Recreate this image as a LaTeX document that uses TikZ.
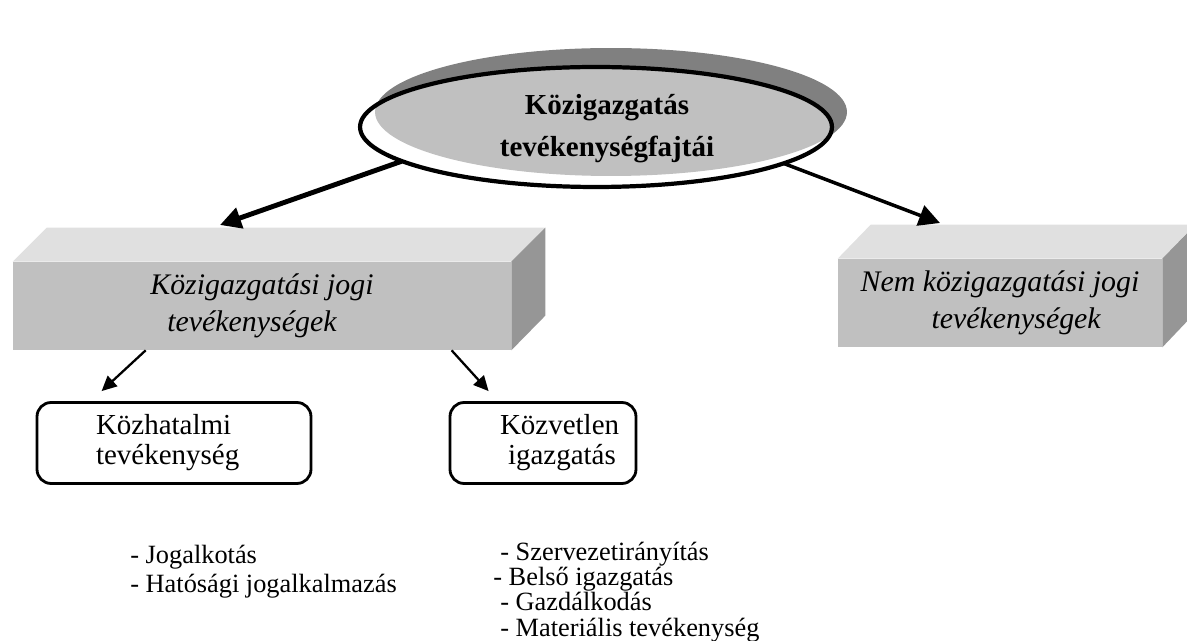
\documentclass[tikz,border=0pt]{standalone}
\usepackage{fontspec}
\setmainfont{Liberation Serif}
\usetikzlibrary{shapes.geometric, arrows.meta, positioning, calc}
\definecolor{shadowgray}{RGB}{128, 128, 128}
\definecolor{ovalgray}{RGB}{192, 192, 192}
\definecolor{frontgray}{RGB}{192, 192, 192}
\definecolor{topgray}{RGB}{224, 224, 224}
\definecolor{sidegray}{RGB}{150, 150, 150}

\begin{document}
\begin{tikzpicture}[x=0.02cm, y=-0.02cm,
  frontface/.style={fill=frontgray, inner sep=0pt, minimum height=1.76cm, align=left, font=\itshape\fontsize{17}{21}\selectfont},
  subbox/.style={draw, line width=1.6pt, rounded corners=8pt, minimum height=1.62cm, align=left, font=\fontsize{16.5}{17}\selectfont},
  listtext/.style={inner sep=0pt, anchor=west, align=left, font=\fontsize{15}{14.3}\selectfont},
  bigarrow/.style={-{Triangle[length=0.42cm, width=0.42cm]}},
  smallarrow/.style={-{Triangle[length=0.3cm, width=0.28cm]}, line width=1.3pt}]
  \useasboundingbox (0,0) rectangle (1187,641);

  % Title oval with its shadow
  \fill[shadowgray] (611,112) ellipse [x radius=4.72cm, y radius=1.28cm];
  \node[ellipse, fill=white, minimum width=9.44cm, minimum height=2.4cm] (title) at (596,127) {};
  \begin{scope}
    \clip (596,127) ellipse [x radius=4.72cm, y radius=1.2cm];
    \fill[ovalgray] (611,112) ellipse [x radius=4.72cm, y radius=1.28cm];
  \end{scope}
  \draw[line width=2.4pt] (title.center) ellipse [x radius=4.72cm, y radius=1.2cm];
  \node[align=center, font=\bfseries\fontsize{16.5}{23.8}\selectfont] (titletxt) at (607,129) {Közigazgatás\\tevékenységfajtái};

  % Left block
  \node[frontface, minimum width=9.96cm] (kjt) at (262,306) {Közigazgatási jogi\\\hspace*{0.34cm}tevékenységek};
  \fill[topgray] (kjt.north west) -- ++(34,-34) -- ++(498,0) -- (kjt.north east) -- cycle;
  \fill[sidegray] (kjt.north east) -- ++(34,-34) -- ++(0,88) -- (kjt.south east) -- cycle;

  % Right block
  \node[frontface, minimum width=6.48cm] (nkj) at (1000,303) {Nem közigazgatási jogi\\\hspace*{1.42cm}tevékenységek};
  \fill[topgray] (nkj.north west) -- ++(33,-34) -- ++(324,0) -- (nkj.north east) -- cycle;
  \fill[sidegray] (nkj.north east) -- ++(33,-34) -- ++(0,88) -- (nkj.south east) -- cycle;

  % Arrows from the oval
  \coordinate (kjtin) at (220,225);
  \coordinate (nkjin) at (940,223);
  \draw[bigarrow, line width=2.8pt] (title.190) -- (kjtin);
  \draw[bigarrow, line width=2pt] (title.349) -- (nkjin);

  % Sub boxes
  \node[subbox, minimum width=5.48cm, text width=3.12cm] (khat) at (174,443) {Közhatalmi\\tevékenység};
  \node[subbox, minimum width=3.72cm, text width=3.3cm] (kozv) at (543,443) {\hspace*{0.79cm}Közvetlen\\\hspace*{0.95cm}igazgatás};
  \draw[smallarrow] ([xshift=2.66cm]kjt.south west) -- ([xshift=1.32cm, yshift=0.2cm]khat.north west);
  \draw[smallarrow] ([xshift=8.78cm]kjt.south west) -- ([xshift=0.8cm, yshift=0.2cm]kozv.north west);

  % Lists
  \node[listtext, font=\fontsize{15}{16.4}\selectfont] (khatlist) at (130,572) {- Jogalkotás\\- Hatósági jogalkalmazás};
  \node[listtext] (kozvlist) at (493,592) {\hspace*{0.14cm}- Szervezetirányítás\\- Belső igazgatás\\\hspace*{0.14cm}- Gazdálkodás\\\hspace*{0.14cm}- Materiális tevékenység};
\end{tikzpicture}
\end{document}
